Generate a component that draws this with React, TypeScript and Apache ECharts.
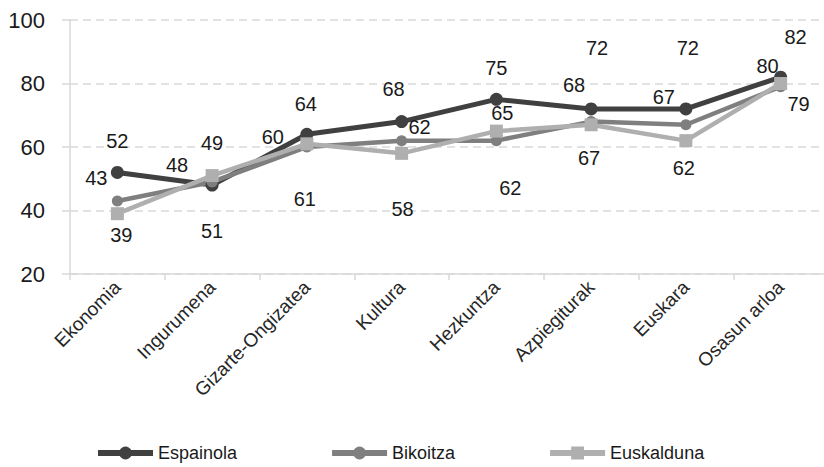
import React, { useEffect, useRef } from "react";
import * as echarts from "echarts";

const categories = ["Ekonomia", "Ingurumena", "Gizarte-Ongizatea", "Kultura", "Hezkuntza", "Azpiegiturak", "Euskara", "Osasun arloa"];
const espainola = [52, 48, 64, 68, 75, 72, 72, 82];
const bikoitza = [43, 49, 60, 62, 62, 68, 67, 79];
const euskalduna = [39, 51, 61, 58, 65, 67, 62, 80];
const yTicks = { min: 20, max: 100, interval: 20 };

// label placement (styling, pixel offsets from each point)
const offEsp = [[0, -31], [-35, -20], [-1, -30], [-8, -33], [0, -31], [6, -61], [2, -61], [15, -40]];
const offBik = [[-21, -23], [0, -39], [-34, -10], [18, -14], [14, 47], [-17, -37], [-22, -28], [18, 17]];
const offEus = [[4, 21], [0, 55], [-2, 55], [1, 56], [6, -18], [-2, 33], [-2, 27], [-13, -18]];

const FONT = "'Liberation Sans', Arial, sans-serif";

function mk(name: string, vals: number[], offs: number[][], color: string, symbol: string, symbolSize: number, width: number) {
  return {
    name,
    type: "line",
    data: vals.map((v, i) => ({
      value: v,
      label: { offset: offs[i] },
    })),
    symbol,
    symbolSize,
    itemStyle: { color },
    lineStyle: { color, width },
    label: {
      show: true,
      position: "inside",
      color: "#1a1a1a",
      fontSize: 20,
      fontFamily: FONT,
    },
  };
}

export default function App() {
  const ref = useRef<HTMLDivElement>(null);
  useEffect(() => {
    if (!ref.current) return;
    const chart = echarts.init(ref.current, null, { renderer: "svg" });
    chart.setOption({
      animation: false,
      backgroundColor: "#ffffff",
      textStyle: { fontFamily: FONT },
      grid: { left: 70, right: -4, top: 20, bottom: 193, outerBoundsMode: "none", containLabel: false },
      legend: {
        left: 90,
        top: 439,
        itemWidth: 55,
        itemHeight: 16,
        itemGap: 92,
        lineStyle: { width: 6 },
        textStyle: { fontSize: 18, color: "#1a1a1a", fontFamily: FONT },
        data: ["Espainola", "Bikoitza", "Euskalduna"],
      },
      xAxis: {
        type: "category",
        data: categories,
        boundaryGap: true,
        axisLine: { lineStyle: { color: "#d9d9d9", width: 1.5 } },
        axisTick: { show: true, length: 6, lineStyle: { color: "#d9d9d9", width: 1.5 } },
        axisLabel: { rotate: 45, margin: 10, fontSize: 19, color: "#262626", fontFamily: FONT, interval: 0 },
        splitLine: { show: false },
      },
      yAxis: {
        type: "value",
        min: yTicks.min,
        max: yTicks.max,
        interval: yTicks.interval,
        axisLine: { show: true, lineStyle: { color: "#d9d9d9", width: 1.5 } },
        axisTick: { show: true, length: 8, lineStyle: { color: "#d9d9d9", width: 1.5 } },
        axisLabel: { fontSize: 22, color: "#1a1a1a", margin: 25, fontFamily: FONT },
        splitLine: { show: true, lineStyle: { color: "#d9d9d9", width: 1.5, type: [8, 5] } },
      },
      series: [
        mk("Espainola", espainola, offEsp, "#404040", "circle", 13, 5),
        mk("Bikoitza", bikoitza, offBik, "#7f7f7f", "circle", 11, 4.5),
        mk("Euskalduna", euskalduna, offEus, "#afafaf", "rect", 13, 4.5),
      ],
    });
    return () => chart.dispose();
  }, []);
  return <div ref={ref} style={{ position: "absolute", left: 0, top: 0, width: 824, height: 467 }} />;
}
